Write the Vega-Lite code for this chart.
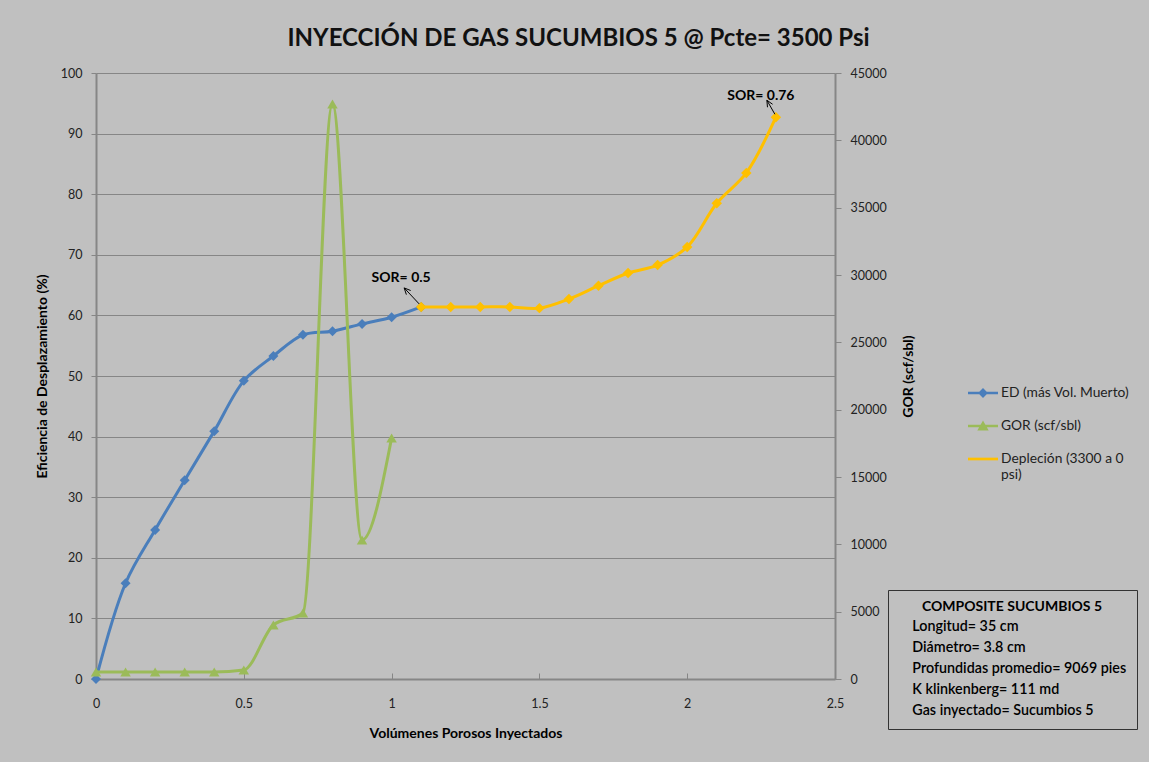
{
  "$schema": "https://vega.github.io/schema/vega-lite/v6.json",
  "width": 739,
  "height": 606,
  "autosize": {"type": "none"},
  "padding": {"left": 96, "top": 73, "right": 314, "bottom": 83},
  "background": "#c0c0c0",
  "config": {
    "view": {"fill": "white", "stroke": null},
    "font": "Lato",
    "axis": {
      "labelFont": "Lato",
      "labelFontSize": 12.5,
      "labelColor": "#222222",
      "labelFlush": false,
      "domainColor": "#868686",
      "domainWidth": 2,
      "tickColor": "#868686",
      "tickWidth": 1,
      "titleFont": "Lato",
      "titleFontSize": 14,
      "titleFontWeight": "bold",
      "titleColor": "#000000"
    }
  },
  "title": {
    "text": "INYECCIÓN DE GAS SUCUMBIOS 5 @ Pcte= 3500 Psi",
    "font": "Lato",
    "fontSize": 24,
    "fontWeight": "bold",
    "color": "#111111",
    "anchor": "middle",
    "frame": "group",
    "dx": 113,
    "offset": 16
  },
  "datasets": {
    "pts": [
      {"serie": "ED (más Vol. Muerto)", "vp": 0, "val": 0},
      {"serie": "ED (más Vol. Muerto)", "vp": 0.1, "val": 15.8},
      {"serie": "ED (más Vol. Muerto)", "vp": 0.2, "val": 24.6},
      {"serie": "ED (más Vol. Muerto)", "vp": 0.3, "val": 32.8},
      {"serie": "ED (más Vol. Muerto)", "vp": 0.4, "val": 40.9},
      {"serie": "ED (más Vol. Muerto)", "vp": 0.5, "val": 49.2},
      {"serie": "ED (más Vol. Muerto)", "vp": 0.6, "val": 53.3},
      {"serie": "ED (más Vol. Muerto)", "vp": 0.7, "val": 56.8},
      {"serie": "ED (más Vol. Muerto)", "vp": 0.8, "val": 57.4},
      {"serie": "ED (más Vol. Muerto)", "vp": 0.9, "val": 58.6},
      {"serie": "ED (más Vol. Muerto)", "vp": 1.0, "val": 59.7},
      {"serie": "ED (más Vol. Muerto)", "vp": 1.1, "val": 61.4},
      {"serie": "GOR (scf/sbl)", "vp": 0, "val": 520},
      {"serie": "GOR (scf/sbl)", "vp": 0.1, "val": 520},
      {"serie": "GOR (scf/sbl)", "vp": 0.2, "val": 520},
      {"serie": "GOR (scf/sbl)", "vp": 0.3, "val": 520},
      {"serie": "GOR (scf/sbl)", "vp": 0.4, "val": 520},
      {"serie": "GOR (scf/sbl)", "vp": 0.5, "val": 670},
      {"serie": "GOR (scf/sbl)", "vp": 0.6, "val": 4010},
      {"serie": "GOR (scf/sbl)", "vp": 0.7, "val": 4900},
      {"serie": "GOR (scf/sbl)", "vp": 0.8, "val": 42700},
      {"serie": "GOR (scf/sbl)", "vp": 0.9, "val": 10320},
      {"serie": "GOR (scf/sbl)", "vp": 1.0, "val": 17900},
      {"serie": "Depleción (3300 a 0 psi)", "vp": 1.1, "val": 61.4},
      {"serie": "Depleción (3300 a 0 psi)", "vp": 1.2, "val": 61.4},
      {"serie": "Depleción (3300 a 0 psi)", "vp": 1.3, "val": 61.4},
      {"serie": "Depleción (3300 a 0 psi)", "vp": 1.4, "val": 61.4},
      {"serie": "Depleción (3300 a 0 psi)", "vp": 1.5, "val": 61.2},
      {"serie": "Depleción (3300 a 0 psi)", "vp": 1.6, "val": 62.7},
      {"serie": "Depleción (3300 a 0 psi)", "vp": 1.7, "val": 64.9},
      {"serie": "Depleción (3300 a 0 psi)", "vp": 1.8, "val": 67.0},
      {"serie": "Depleción (3300 a 0 psi)", "vp": 1.9, "val": 68.3},
      {"serie": "Depleción (3300 a 0 psi)", "vp": 2.0, "val": 71.3},
      {"serie": "Depleción (3300 a 0 psi)", "vp": 2.1, "val": 78.5},
      {"serie": "Depleción (3300 a 0 psi)", "vp": 2.2, "val": 83.5},
      {"serie": "Depleción (3300 a 0 psi)", "vp": 2.3, "val": 92.7}
    ],
    "notes": [
      {"vp": 1.1, "val": 61.4, "label": "SOR= 0.5"},
      {"vp": 2.3, "val": 92.7, "label": "SOR= 0.76"}
    ],
    "info": [
      {"info": "Longitud= 35 cm"},
      {"info": "Diámetro=  3.8 cm"},
      {"info": "Profundidas promedio= 9069 pies"},
      {"info": "K klinkenberg=  111 md"},
      {"info": "Gas inyectado= Sucumbios 5"}
    ]
  },
  "data": {"name": "pts"},
  "layer": [
    {
      "encoding": {
        "x": {
          "field": "vp", "type": "quantitative",
          "scale": {"domain": [0, 2.5], "nice": false},
          "axis": {
            "values": [0, 0.5, 1, 1.5, 2, 2.5],
            "labelExpr": "'' + datum.value",
            "grid": false,
            "tickSize": -6,
            "labelPadding": 24,
            "title": "Volúmenes Porosos  Inyectados",
            "titlePadding": 17
          }
        },
        "y": {
          "field": "val", "type": "quantitative",
          "scale": {"domain": [0, 100], "nice": false},
          "axis": {
            "values": [0, 10, 20, 30, 40, 50, 60, 70, 80, 90, 100],
            "grid": true,
            "gridColor": "#868686",
            "gridWidth": 1,
            "tickSize": 5,
            "labelPadding": 9,
            "title": "Eficiencia de Desplazamiento  (%)",
            "titlePadding": 11
          }
        }
      },
      "layer": [
        {
          "transform": [{"filter": "datum.serie == 'ED (más Vol. Muerto)'"}],
          "mark": {"type": "line", "color": "#4A7EBB", "strokeWidth": 3, "interpolate": "catmull-rom"}
        },
        {
          "transform": [{"filter": "datum.serie == 'ED (más Vol. Muerto)'"}],
          "mark": {"type": "point", "shape": "diamond", "filled": true, "color": "#4A7EBB", "size": 100, "opacity": 1}
        },
        {
          "transform": [{"filter": "datum.serie == 'Depleción (3300 a 0 psi)'"}],
          "mark": {"type": "line", "color": "#FFC000", "strokeWidth": 3, "interpolate": "catmull-rom"}
        },
        {
          "transform": [{"filter": "datum.serie == 'Depleción (3300 a 0 psi)'"}],
          "mark": {"type": "point", "shape": "diamond", "filled": true, "color": "#FFC000", "size": 110, "opacity": 1}
        },
        {
          "data": {"name": "notes"},
          "transform": [{"filter": "datum.label == 'SOR= 0.5'"}],
          "mark": {"type": "point", "shape": "M-2,-3L-17,-19M-14.8,-12.3L-17,-19L-10.5,-16.4", "size": 4, "filled": false, "stroke": "#000000", "strokeWidth": 1, "opacity": 1}
        },
        {
          "data": {"name": "notes"},
          "transform": [{"filter": "datum.label == 'SOR= 0.5'"}],
          "mark": {"type": "text", "dx": -20, "dy": -29, "font": "Lato", "fontSize": 14, "fontWeight": "bold", "color": "#000000"},
          "encoding": {"text": {"field": "label"}}
        },
        {
          "data": {"name": "notes"},
          "transform": [{"filter": "datum.label == 'SOR= 0.76'"}],
          "mark": {"type": "point", "shape": "M-1,-3L-9,-17M-8.4,-10L-9,-17L-3.3,-13", "size": 4, "filled": false, "stroke": "#000000", "strokeWidth": 1, "opacity": 1}
        },
        {
          "data": {"name": "notes"},
          "transform": [{"filter": "datum.label == 'SOR= 0.76'"}],
          "mark": {"type": "text", "dx": -15, "dy": -21, "font": "Lato", "fontSize": 14, "fontWeight": "bold", "color": "#000000"},
          "encoding": {"text": {"field": "label"}}
        }
      ]
    },
    {
      "transform": [{"filter": "datum.serie == 'GOR (scf/sbl)'"}],
      "encoding": {
        "x": {"field": "vp", "type": "quantitative", "scale": {"domain": [0, 2.5], "nice": false}},
        "y": {
          "field": "val", "type": "quantitative",
          "scale": {"domain": [0, 45000], "nice": false},
          "axis": {
            "orient": "right",
            "values": [0, 5000, 10000, 15000, 20000, 25000, 30000, 35000, 40000, 45000],
            "format": "d",
            "grid": false,
            "tickSize": 6,
            "labelPadding": 9,
            "title": "GOR (scf/sbl)",
            "titleAngle": 270,
            "titlePadding": 29
          }
        }
      },
      "layer": [
        {
          "mark": {"type": "line", "color": "#9BBB59", "strokeWidth": 3, "interpolate": "monotone"}
        },
        {
          "mark": {"type": "point", "shape": "triangle-up", "filled": true, "color": "#9BBB59", "size": 110, "opacity": 1}
        }
      ]
    },
    {
      "mark": {"type": "point", "filled": true, "opacity": 0},
      "encoding": {
        "color": {
          "field": "serie", "type": "nominal",
          "scale": {
            "domain": ["ED (más Vol. Muerto)", "GOR (scf/sbl)", "Depleción (3300 a 0 psi)"],
            "range": ["#4A7EBB", "#9BBB59", "#FFC000"]
          },
          "legend": {
            "orient": "none",
            "legendX": 872,
            "legendY": 305,
            "title": null,
            "padding": 0,
            "symbolSize": 900,
            "symbolStrokeWidth": 0,
            "symbolOpacity": 1,
            "labelFont": "Lato",
            "labelFontSize": 13.8,
            "labelColor": "#222222",
            "labelOffset": 3,
            "labelLimit": 300,
            "rowPadding": 11,
            "labelExpr": "datum.label == 'Depleción (3300 a 0 psi)' ? ['Depleción (3300 a 0', 'psi)'] : datum.label",
            "encode": {"symbols": {"update": {"opacity": {"value": 1}}}}
          }
        },
        "shape": {
          "field": "serie", "type": "nominal",
          "scale": {
            "domain": ["ED (más Vol. Muerto)", "GOR (scf/sbl)", "Depleción (3300 a 0 psi)"],
            "range": [
              "M-1,-0.09H1V0.09H-1Z M0,-0.33L0.33,0L0,0.33L-0.33,0Z",
              "M-1,-0.09H1V0.09H-1Z M0,-0.36L0.38,0.3H-0.38Z",
              "M-1,-0.09H1V0.09H-1Z"
            ]
          }
        }
      }
    },
    {
      "data": {"name": "info"},
      "mark": {"type": "point", "filled": true, "opacity": 0},
      "encoding": {
        "fill": {
          "field": "info", "type": "nominal", "sort": null,
          "scale": {"range": ["#000000"]},
          "legend": {
            "orient": "none",
            "legendX": 792,
            "legendY": 517,
            "title": "COMPOSITE SUCUMBIOS 5",
            "titleFont": "Lato",
            "titleFontSize": 14,
            "titleFontWeight": "bold",
            "titleColor": "#000000",
            "titleAnchor": "middle",
            "titleLimit": 400,
            "titlePadding": 6,
            "rowPadding": 6,
            "symbolSize": 0,
            "symbolOpacity": 0,
            "labelOffset": 0,
            "labelFont": "Lato",
            "labelFontSize": 14.3,
            "labelFontWeight": 600,
            "labelColor": "#000000",
            "labelLimit": 300,
            "strokeColor": "#333333",
            "padding": 10,
            "encode": {
              "symbols": {"update": {"opacity": {"value": 0}}}
            }
          }
        }
      }
    }
  ],
  "resolve": {"scale": {"y": "independent"}}
}
